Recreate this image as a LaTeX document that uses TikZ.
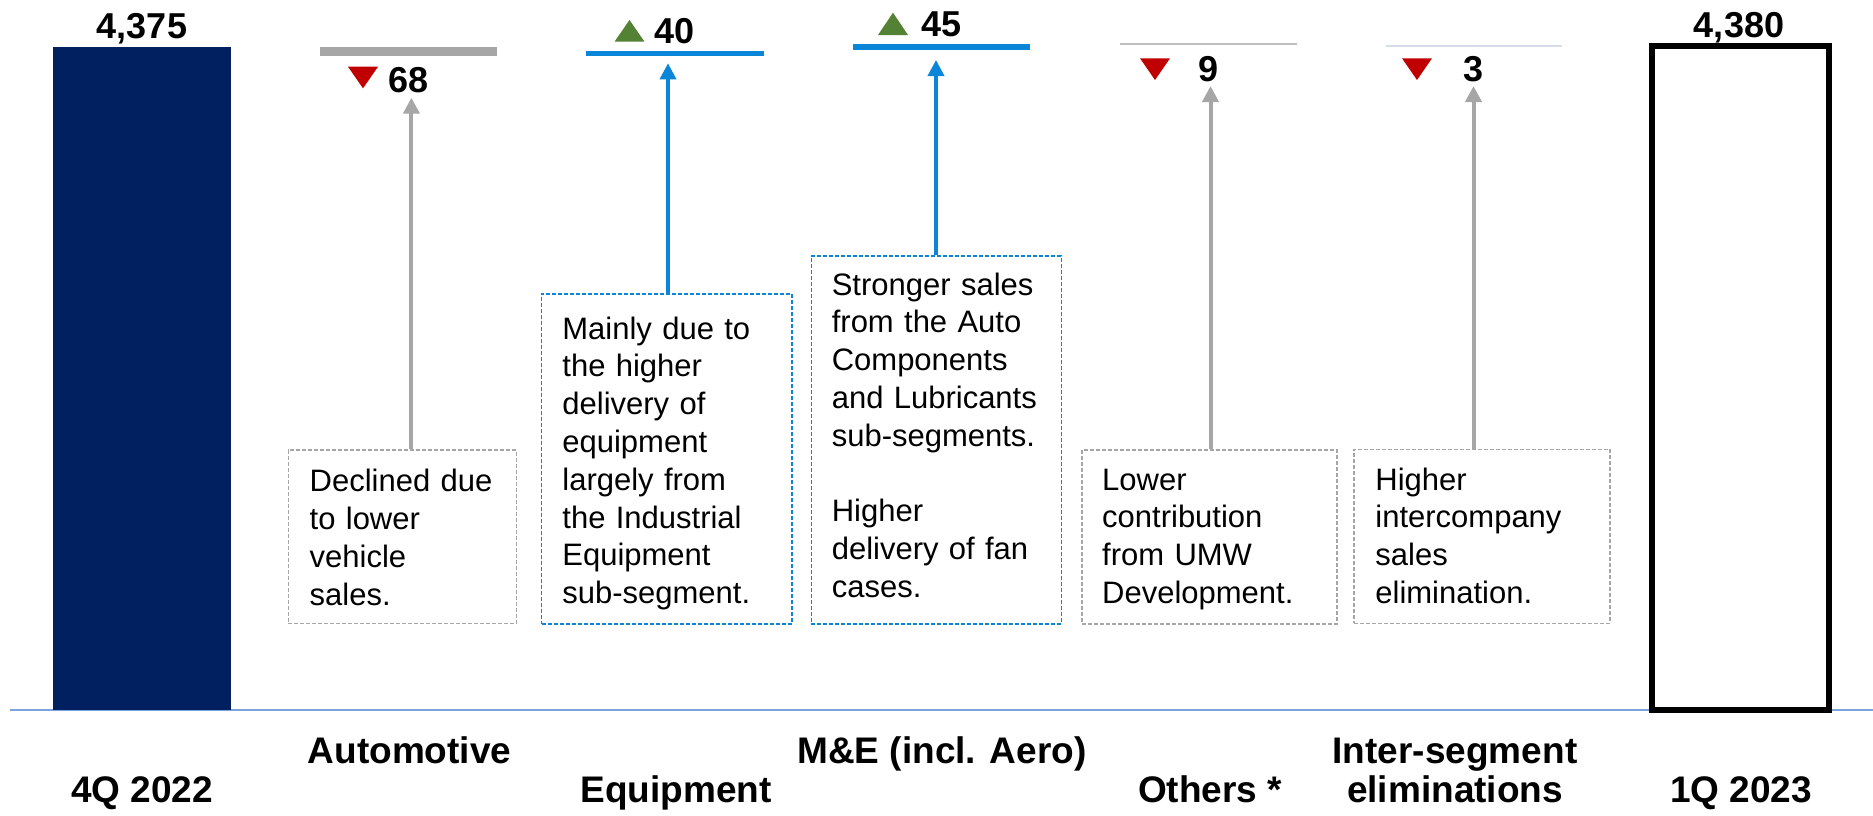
\documentclass[tikz,border=0pt]{standalone}
\usepackage{fontspec}
\setmainfont{Liberation Sans}
\usetikzlibrary{arrows.meta,fit}

\definecolor{navy}{RGB}{0,32,96}
\definecolor{segblue}{RGB}{10,134,216}
\definecolor{seggray}{RGB}{166,166,166}
\definecolor{thingray}{RGB}{191,191,191}
\definecolor{palelav}{RGB}{214,220,234}
\definecolor{downred}{RGB}{192,0,0}
\definecolor{upgreen}{RGB}{84,130,53}
\definecolor{axisblue}{RGB}{125,162,222}

\begin{document}
\begin{tikzpicture}[x=0.5pt,y=-0.5pt,
  value/.style={font=\bfseries\fontsize{18}{21.6}\selectfont, inner sep=0pt, anchor=base},
  catlabel/.style={font=\bfseries\fontsize{18.5}{19.75}\selectfont, inner sep=0pt, anchor=base, align=center},
  notebox/.style={draw, line width=0.75pt, dash pattern=on 2pt off 1pt, inner sep=0pt},
  graybox/.style={notebox, draw=seggray},
  bluebox/.style={notebox, draw=segblue},
  notetext/.style={font=\fontsize{15.5}{18.9}\selectfont, inner sep=0pt, anchor=base west, align=left, text width=130pt},
  grayarrow/.style={draw=seggray, line width=2pt, -{Triangle[width=8pt,length=8pt]}},
  bluearrow/.style={draw=segblue, line width=1.8pt, -{Triangle[width=8pt,length=8pt]}},
]
\useasboundingbox (0,0) rectangle (1873,815);

% axis line
\coordinate (axL) at (10,710);
\coordinate (axR) at (1873,710);
\draw[axisblue, line width=1.25pt] (axL) -- (axR);

% opening and closing bars
\node[fill=navy, inner sep=0pt, fit={(53,47) (231,710)}] (q4) {};
\node[draw=black, line width=3pt, inner sep=0pt, fit={(1651.7,45.7) (1829,710)}] (q1) {};
\node[value] (v0) at (142,38.3) {4,375};
\node[value] (v6) at (1739,37) {4,380};

% segment levels
\draw[seggray, line width=4.5pt] (320,51.3) -- (497,51.3);
\draw[segblue, line width=2.75pt] (586.4,53.3) -- (764,53.3);
\draw[segblue, line width=2.75pt] (852.5,47) -- (1030,47);
\draw[thingray, line width=1pt] (1119.5,43.7) -- (1296.5,43.7);
\draw[palelav, line width=1pt] (1386,45.7) -- (1561.5,45.7);

% change markers
\fill[downred] (348,66.7) -- (378,66.7) -- (363,88.3) -- cycle;
\node[value] (v1) at (408.6,92) {68};
\fill[upgreen] (614.5,41.7) -- (644.5,41.7) -- (629.5,20) -- cycle;
\node[value] (v2) at (674.6,43.3) {40};
\fill[upgreen] (878,35) -- (908,35) -- (893,12.7) -- cycle;
\node[value] (v3) at (941.4,36.5) {45};
\fill[downred] (1140,58.3) -- (1170,58.3) -- (1155,80) -- cycle;
\node[value] (v4) at (1208,81.7) {9};
\fill[downred] (1402,58.3) -- (1432,58.3) -- (1417,80) -- cycle;
\node[value] (v5) at (1473,81.7) {3};

% explanation boxes
\node[graybox, fit={(288.3,450) (516.7,623.3)}] (b1) {};
\node[bluebox, fit={(541.6,294) (792,624)}] (b2) {};
\node[bluebox, fit={(811.4,256) (1061.4,624)}] (b3) {};
\node[graybox, fit={(1082,450) (1336.8,624)}] (b4) {};
\node[graybox, fit={(1354,449.3) (1610,623.3)}] (b5) {};

\node[notetext] (n1) at (309.3,491.7) {Declined due\\to lower\\vehicle\\sales.};
\node[notetext] (n2) at (562,339) {Mainly due to\\the higher\\delivery of\\equipment\\largely from\\the Industrial\\Equipment\\sub-segment.};
\node[notetext] (n3) at (831.4,295) {Stronger sales\\from the Auto\\Components\\and Lubricants\\sub-segments.\\[18.9pt]Higher\\delivery of fan\\cases.};
\node[notetext] (n4) at (1101.8,490) {Lower\\contribution\\from UMW\\Development.};
\node[notetext] (n5) at (1375,490) {Higher\\intercompany\\sales\\elimination.};

% pointers from boxes up to the values
\coordinate (t1) at (411.4,97.7);
\coordinate (t2) at (668,63.3);
\coordinate (t3) at (936,60);
\coordinate (t4) at (1210.5,86);
\coordinate (t5) at (1473.5,86);
\draw[grayarrow] (t1 |- b1.north) -- (t1);
\draw[bluearrow] (t2 |- b2.north) -- (t2);
\draw[bluearrow] (t3 |- b3.north) -- (t3);
\draw[grayarrow] (t4 |- b4.north) -- (t4);
\draw[grayarrow] (t5 |- b5.north) -- (t5);

% category labels
\node[catlabel] (c0) at (142,802) {4Q 2022};
\node[catlabel] (c1) at (409.5,763.3) {Automotive};
\node[catlabel] (c2) at (676,802) {Equipment};
\node[catlabel] (c3) at (942,763.3) {M\&E (incl. Aero)};
\node[catlabel] (c4) at (1210,802) {Others *};
\node[catlabel, text width=130pt] (c5) at (1455,763.3) {Inter-segment\\eliminations};
\node[catlabel] (c6) at (1741,802) {1Q 2023};
\end{tikzpicture}
\end{document}
